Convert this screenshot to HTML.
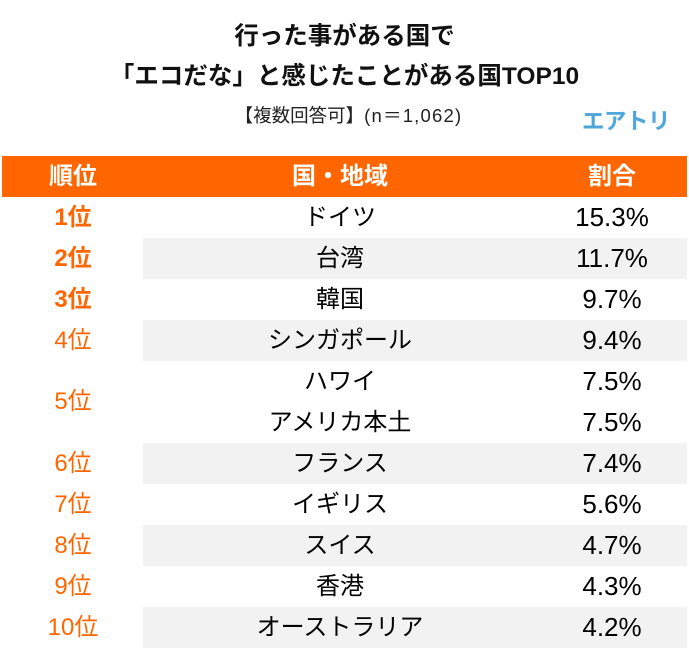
<!DOCTYPE html>
<html lang="ja">
<head>
<meta charset="utf-8">
<style>
  html, body { margin:0; padding:0; background:#fff; }
  body { width:689px; height:651px; position:relative; overflow:hidden;
         font-family:"Liberation Sans","Noto Sans CJK JP",sans-serif; color:#000; }
  .abs { position:absolute; white-space:nowrap; }
  .title { left:0; width:689px; text-align:center; font-weight:bold; font-size:24.5px; line-height:24px; color:#111; }
  .sub { left:4px; width:689px; text-align:center; font-size:18.5px; line-height:20px; color:#222; }
  .sub .n { letter-spacing:1.2px; }
  .logo { left:582px; top:109px; font-size:22.5px; line-height:26px; font-weight:bold; color:#4fa6dd; letter-spacing:-0.5px; }
  .hdr { left:2px; top:156px; width:685px; height:41px; background:#ff6600; }
  .hdr span { position:absolute; top:0; line-height:41px; color:#fff; font-weight:bold; font-size:24px; transform:translateX(-50%); }
  .row { position:absolute; left:0; width:689px; height:41px; }
  .row .bg { position:absolute; left:143px; top:0; width:544px; height:41px; background:#f2f2f2; }
  .cell { position:absolute; top:0; line-height:41px; transform:translateX(-50%); white-space:nowrap; }
  .rk { left:73px; color:#ff6600; font-size:24px; }
  .rk.b { font-weight:bold; }
  .ct { left:340px; font-size:24px; color:#000; }
  .pc { left:612px; font-size:26px; color:#000; }
</style>
</head>
<body>
  <div class="abs title" style="top:25px;">行った事がある国で</div>
  <div class="abs title" style="top:65px;">「エコだな」と感じたことがある国TOP10</div>
  <div class="abs sub" style="top:106px;">【複数回答可】<span class="n">(n＝1,062)</span></div>
  <div class="abs logo">エアトリ</div>

  <div class="abs hdr">
    <span style="left:71px;">順位</span>
    <span style="left:338px;">国・地域</span>
    <span style="left:610px;">割合</span>
  </div>

  <div class="row" style="top:197px;">
    <div class="cell rk b">1位</div>
    <div class="cell ct">ドイツ</div>
    <div class="cell pc">15.3%</div>
  </div>
  <div class="row" style="top:238px;">
    <div class="bg"></div>
    <div class="cell rk b">2位</div>
    <div class="cell ct">台湾</div>
    <div class="cell pc">11.7%</div>
  </div>
  <div class="row" style="top:279px;">
    <div class="cell rk b">3位</div>
    <div class="cell ct">韓国</div>
    <div class="cell pc">9.7%</div>
  </div>
  <div class="row" style="top:320px;">
    <div class="bg"></div>
    <div class="cell rk">4位</div>
    <div class="cell ct">シンガポール</div>
    <div class="cell pc">9.4%</div>
  </div>
  <div class="row" style="top:361px;">
    <div class="cell ct">ハワイ</div>
    <div class="cell pc">7.5%</div>
  </div>
  <div class="row" style="top:402px;">
    <div class="cell ct">アメリカ本土</div>
    <div class="cell pc">7.5%</div>
  </div>
  <div class="row" style="top:381px;">
    <div class="cell rk">5位</div>
  </div>
  <div class="row" style="top:443px;">
    <div class="bg"></div>
    <div class="cell rk">6位</div>
    <div class="cell ct">フランス</div>
    <div class="cell pc">7.4%</div>
  </div>
  <div class="row" style="top:484px;">
    <div class="cell rk">7位</div>
    <div class="cell ct">イギリス</div>
    <div class="cell pc">5.6%</div>
  </div>
  <div class="row" style="top:525px;">
    <div class="bg"></div>
    <div class="cell rk">8位</div>
    <div class="cell ct">スイス</div>
    <div class="cell pc">4.7%</div>
  </div>
  <div class="row" style="top:566px;">
    <div class="cell rk">9位</div>
    <div class="cell ct">香港</div>
    <div class="cell pc">4.3%</div>
  </div>
  <div class="row" style="top:607px;">
    <div class="bg"></div>
    <div class="cell rk">10位</div>
    <div class="cell ct">オーストラリア</div>
    <div class="cell pc">4.2%</div>
  </div>
</body>
</html>
